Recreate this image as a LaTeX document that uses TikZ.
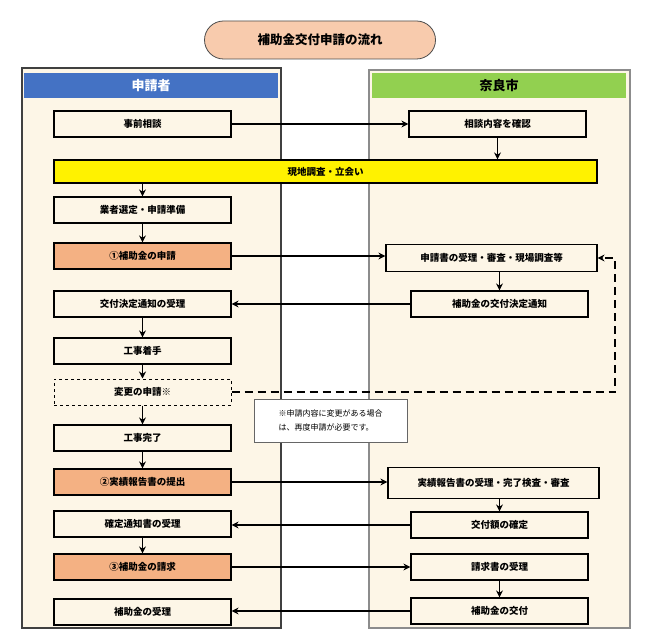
\documentclass[tikz,border=0pt]{standalone}
\usepackage{fontspec}
\setmainfont{Noto Sans CJK JP}
\usetikzlibrary{arrows.meta}
\definecolor{cream}{HTML}{FDF6E7}
\definecolor{org}{HTML}{F4B183}
\definecolor{ttl}{HTML}{F8CBAD}
\definecolor{blu}{HTML}{4472C4}
\definecolor{grn}{HTML}{92D050}
\begin{document}
\begin{tikzpicture}[x=1pt,y=-1pt,
 box/.style={draw=black,line width=1.2pt,fill=cream,minimum height=26pt,inner sep=0pt,font=\fontsize{9.5}{11}\selectfont\bfseries},
 L/.style={box,minimum width=177pt},
 R/.style={box,minimum width=177pt},
 arr/.style={line width=1.6pt,-{Stealth[length=7pt,width=7pt]}}]
\useasboundingbox (0,0) rectangle (650,636);
\fill[white] (0,0) rectangle (650,636);
% title
\node[draw=black!70,line width=0.8pt,fill=ttl,rounded corners=19pt,minimum width=231pt,minimum height=38pt,font=\fontsize{12.5}{14}\selectfont\bfseries] (title) at (320,40) {補助金交付申請の流れ};
% panels
\draw[black!75,line width=1.5pt,fill=cream] (22,68) rectangle (281,628);
\draw[black!45,line width=2pt,fill=cream] (369,70) rectangle (630,628);
\node[fill=blu,minimum width=254pt,minimum height=25pt,inner sep=0pt,text=white,font=\fontsize{13}{15}\selectfont\bfseries] (hl) at (151,85.5) {申請者};
\node[fill=grn,minimum width=254pt,minimum height=25pt,inner sep=0pt,font=\fontsize{13}{15}\selectfont\bfseries] (hr) at (499,85.5) {奈良市};
% left column
\node[L] (a1) at (142.5,124) {事前相談};
\node[box,fill=yellow,minimum width=543pt,minimum height=23pt] (y) at (325.5,171.5) {現地調査・立会い};
\node[L] (a2) at (142.5,210) {業者選定・申請準備};
\node[L,fill=org] (a3) at (142.5,256) {①補助金の申請};
\node[L] (a4) at (142.5,304) {交付決定通知の受理};
\node[L] (a5) at (142.5,351) {工事着手};
\node[L,dashed,line width=1pt] (a6) at (142.5,392) {変更の申請※};
\node[L] (a7) at (142.5,438) {工事完了};
\node[L,fill=org] (a8) at (142.5,482) {②実績報告書の提出};
\node[L] (a9) at (142.5,524) {確定通知書の受理};
\node[L,fill=org] (a10) at (142.5,567) {③補助金の請求};
\node[L] (a11) at (142.5,612) {補助金の受理};
% right column
\node[R] (b1) at (497.5,124) {相談内容を確認};
\node[box,minimum width=211pt,minimum height=27pt] (b2) at (491.5,258) {申請書の受理・審査・現場調査等};
\node[R] (b3) at (499.5,304) {補助金の交付決定通知};
\node[box,minimum width=211pt,minimum height=31pt] (b4) at (493.5,483) {実績報告書の受理・完了検査・審査};
\node[R] (b5) at (499.5,525) {交付額の確定};
\node[R] (b6) at (499.5,567) {請求書の受理};
\node[R] (b7) at (499.5,611) {補助金の交付};
% note
\node[draw=black!60,line width=0.5pt,fill=white,minimum width=153pt,minimum height=43pt,align=left,inner sep=2pt,font=\fontsize{8}{14}\selectfont] (note) at (330.5,420.5) {※申請内容に変更がある場合\\は、再度申請が必要です。};
% arrows
\draw[arr] (a1) -- (b1);
\draw[arr] (b1) -- (b1|-y.north);
\draw[arr] (a1|-y.south) -- (a2);
\draw[arr] (a2) -- (a3);
\draw[arr] (a3) -- (a3-|b2.west);
\draw[arr] (b2.south-|b3) -- (b3);
\draw[arr] (b3) -- (b3-|a4.east);
\draw[arr] (a4) -- (a5);
\draw[arr] (a5) -- (a6);
\draw[arr] (a6) -- (a7);
\draw[arr] (a7) -- (a8);
\draw[arr] (a8) -- (a8-|b4.west);
\draw[arr] (b4.south-|b5) -- (b5);
\draw[arr] (b5) -- (b5-|a9.east);
\draw[arr] (a9) -- (a10);
\draw[arr] (a10) -- (b6);
\draw[arr] (b6) -- (b7);
\draw[arr] (b7) -- (b7-|a11.east);
\coordinate (c1) at (615,392);
\coordinate (c2) at (615,258);
\draw[arr,dash pattern=on 8pt off 5pt] (a6.east) -- (c1) -- (c2) -- (b2.east);
\end{tikzpicture}
\end{document}
